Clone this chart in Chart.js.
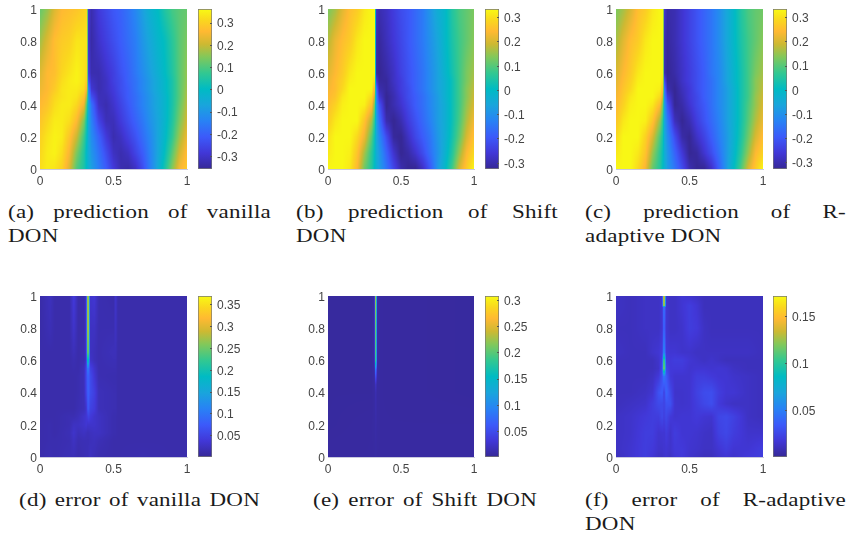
<!DOCTYPE html>
<html>
<head>
<meta charset="utf-8">
<title>DON predictions and errors</title>
<script src="https://cdn.jsdelivr.net/npm/chart.js@4"></script>
<style>
  body { margin: 0; background: #fff; width: 848px; height: 536px; overflow: hidden; position: relative; }
  canvas { position: absolute; }
  .cap { position: absolute; font-family: "Liberation Serif", serif; font-size: 19.5px; line-height: 24px; letter-spacing: .2px; color: #1a1a1a; white-space: nowrap; transform: scaleX(1.18); transform-origin: left top; }
  .just { text-align: justify; text-align-last: justify; white-space: normal; }
</style>
</head>
<body>
<script>
// prediction panels share one grid, rows go top to bottom
const predX = [0,.05,.1,.15,.2,.25,.3,.32,.33,.35,.4,.45,.5,.55,.6,.65,.7,.75,.8,.85,.9,.95,1];
const predT = [1,.8,.6,.55,.5,.45,.4,.3,.2,.1,0];

const vanillaPred = [
  [.12,.16,.22,.26,.27,.28,.30,.31,-.29,-.33,-.28,-.25,-.22,-.20,-.17,-.13,-.08,-.03,0,.05,.09,.11,.12],
  [.17,.22,.27,.29,.30,.33,.33,.33,-.30,-.34,-.30,-.27,-.24,-.21,-.18,-.15,-.10,-.06,-.02,.01,.06,.11,.14],
  [.22,.26,.27,.31,.33,.35,.33,.31,-.27,-.33,-.33,-.30,-.27,-.23,-.20,-.16,-.12,-.08,-.04,0,.05,.11,.16],
  [.23,.26,.28,.32,.34,.35,.33,.29,-.22,-.31,-.33,-.31,-.27,-.24,-.20,-.17,-.13,-.09,-.05,-.01,.04,.11,.16],
  [.24,.26,.29,.33,.34,.34,.32,.24,-.13,-.29,-.33,-.31,-.28,-.24,-.21,-.17,-.13,-.09,-.05,-.01,.04,.11,.17],
  [.25,.27,.31,.33,.34,.33,.28,.16,-.09,-.23,-.32,-.32,-.29,-.25,-.21,-.18,-.14,-.10,-.06,-.02,.04,.11,.18],
  [.26,.28,.32,.34,.34,.31,.24,.08,-.06,-.17,-.31,-.33,-.30,-.26,-.22,-.18,-.14,-.10,-.06,-.02,.04,.12,.19],
  [.28,.31,.34,.34,.32,.26,.14,.02,-.06,-.14,-.26,-.32,-.32,-.28,-.24,-.20,-.16,-.11,-.07,-.02,.05,.14,.21],
  [.30,.33,.35,.34,.28,.20,.08,0,-.06,-.12,-.20,-.28,-.33,-.31,-.27,-.23,-.18,-.13,-.07,-.01,.07,.17,.24],
  [.31,.34,.35,.32,.25,.14,.05,-.02,-.05,-.10,-.17,-.24,-.31,-.33,-.31,-.26,-.21,-.14,-.07,.01,.11,.21,.27],
  [.32,.34,.33,.30,.22,.10,.04,-.01,-.04,-.08,-.15,-.21,-.28,-.33,-.34,-.31,-.24,-.15,-.06,.04,.15,.25,.29],
];
const shiftPred = [
  [.13,.16,.21,.25,.27,.31,.33,.33,-.27,-.30,-.28,-.25,-.22,-.20,-.17,-.14,-.09,-.04,-.01,.05,.09,.11,.13],
  [.17,.22,.25,.27,.31,.33,.33,.33,-.30,-.32,-.29,-.26,-.23,-.20,-.17,-.14,-.10,-.06,-.01,.04,.08,.11,.14],
  [.21,.24,.27,.31,.33,.33,.33,.33,-.31,-.33,-.31,-.28,-.24,-.21,-.18,-.15,-.11,-.07,-.02,.03,.08,.13,.16],
  [.22,.25,.28,.32,.33,.33,.33,.30,-.24,-.32,-.32,-.28,-.25,-.21,-.18,-.15,-.11,-.07,-.03,.02,.08,.13,.17],
  [.23,.25,.29,.33,.33,.33,.33,.24,-.14,-.30,-.32,-.29,-.25,-.22,-.18,-.15,-.11,-.07,-.03,.02,.08,.14,.18],
  [.24,.26,.31,.33,.33,.33,.29,.18,-.10,-.26,-.33,-.30,-.26,-.22,-.19,-.16,-.12,-.08,-.03,.02,.08,.14,.19],
  [.25,.28,.32,.33,.33,.32,.25,.12,-.08,-.20,-.33,-.30,-.27,-.23,-.19,-.16,-.12,-.08,-.04,.02,.08,.15,.20],
  [.27,.31,.33,.33,.33,.26,.16,.06,-.06,-.15,-.30,-.33,-.30,-.25,-.21,-.17,-.13,-.08,-.04,.02,.09,.17,.23],
  [.30,.33,.33,.33,.29,.22,.10,.02,-.05,-.11,-.22,-.32,-.33,-.28,-.23,-.19,-.15,-.09,-.04,.03,.11,.20,.26],
  [.31,.33,.33,.32,.26,.16,.06,.01,-.04,-.08,-.18,-.27,-.33,-.31,-.27,-.22,-.16,-.10,-.03,.05,.15,.24,.29],
  [.33,.33,.33,.31,.24,.12,.05,0,-.03,-.07,-.15,-.23,-.30,-.33,-.33,-.28,-.20,-.09,-.01,.08,.20,.27,.33],
];
const radaptPred = [
  [.13,.16,.20,.25,.27,.31,.33,.33,-.27,-.31,-.30,-.27,-.24,-.21,-.18,-.15,-.11,-.06,-.01,.05,.09,.11,.12],
  [.16,.21,.25,.27,.31,.33,.33,.33,-.30,-.32,-.30,-.27,-.24,-.21,-.18,-.15,-.11,-.06,-.01,.04,.08,.11,.14],
  [.20,.24,.27,.31,.33,.33,.33,.32,-.30,-.33,-.31,-.28,-.25,-.22,-.19,-.15,-.12,-.07,-.02,.03,.08,.13,.16],
  [.21,.25,.28,.32,.33,.33,.33,.29,-.22,-.32,-.32,-.28,-.25,-.22,-.19,-.16,-.12,-.07,-.02,.03,.08,.14,.17],
  [.22,.26,.29,.33,.33,.33,.32,.24,-.15,-.30,-.33,-.29,-.26,-.22,-.19,-.16,-.12,-.08,-.03,.03,.08,.14,.18],
  [.23,.27,.31,.33,.33,.33,.29,.18,-.11,-.25,-.33,-.30,-.26,-.23,-.19,-.16,-.12,-.08,-.03,.03,.08,.15,.19],
  [.24,.28,.32,.33,.33,.31,.24,.12,-.08,-.20,-.33,-.31,-.27,-.23,-.20,-.16,-.12,-.08,-.03,.03,.09,.15,.20],
  [.26,.31,.33,.33,.32,.26,.15,.06,-.06,-.14,-.29,-.33,-.30,-.25,-.21,-.17,-.13,-.08,-.03,.03,.10,.17,.22],
  [.29,.33,.33,.33,.28,.20,.09,.03,-.05,-.11,-.22,-.31,-.33,-.28,-.24,-.19,-.14,-.09,-.03,.04,.12,.20,.25],
  [.31,.33,.33,.31,.26,.15,.06,.01,-.04,-.09,-.18,-.26,-.33,-.32,-.27,-.22,-.16,-.09,-.02,.06,.15,.24,.28],
  [.33,.33,.33,.29,.23,.11,.05,0,-.03,-.08,-.15,-.22,-.30,-.33,-.33,-.28,-.19,-.09,0,.09,.20,.27,.33],
];

const vanillaErrX = [0,.07,.1,.2,.23,.26,.3,.315,.322,.332,.34,.37,.4,.5,.515,.53,.7,.9,1];
const vanillaErrT = [1,.8,.65,.6,.55,.5,.4,.3,.25,.2,.15,.1,0];
const vanillaErr = [
  [.01,.022,.012,.012,.04,.012,.012,.03,.26,.27,.03,.035,.015,.012,.03,.012,.012,.012,.012],
  [.01,.018,.012,.012,.03,.012,.012,.03,.26,.27,.025,.025,.015,.015,.025,.012,.012,.012,.012],
  [.012,.012,.012,.012,.02,.012,.015,.03,.24,.24,.025,.02,.015,.02,.02,.012,.012,.012,.012],
  [.012,.012,.012,.012,.016,.012,.015,.03,.18,.18,.03,.02,.015,.018,.018,.012,.012,.012,.012],
  [.012,.012,.012,.012,.014,.012,.02,.05,.1,.1,.05,.03,.015,.016,.016,.012,.012,.012,.012],
  [.012,.012,.012,.012,.012,.014,.02,.055,.075,.08,.06,.035,.016,.014,.014,.012,.012,.012,.012],
  [.012,.012,.012,.012,.012,.014,.02,.05,.07,.08,.06,.045,.02,.016,.016,.012,.012,.012,.012],
  [.012,.012,.012,.012,.012,.016,.02,.03,.06,.07,.05,.04,.02,.016,.016,.012,.012,.012,.012],
  [.012,.012,.012,.016,.016,.02,.03,.035,.04,.05,.04,.03,.025,.014,.014,.012,.012,.012,.012],
  [.012,.014,.012,.016,.025,.025,.03,.035,.03,.03,.03,.03,.025,.014,.014,.012,.012,.012,.012],
  [.012,.014,.012,.018,.03,.02,.025,.022,.02,.02,.022,.025,.025,.014,.014,.012,.012,.012,.012],
  [.012,.014,.014,.016,.025,.016,.018,.018,.018,.018,.02,.022,.018,.012,.012,.012,.012,.012,.012],
  [.012,.016,.014,.018,.018,.014,.016,.018,.018,.02,.024,.018,.014,.012,.012,.012,.014,.012,.012],
];

const shiftErrX = [0,.3,.318,.323,.33,.335,.36,1];
const shiftErrT = [1,.8,.65,.6,.57,.54,.5,.45,.4,.2,0];
const shiftErr = [
  [.004,.004,.006,.22,.22,.008,.005,.004],
  [.004,.004,.006,.2,.2,.008,.005,.004],
  [.004,.004,.006,.19,.19,.008,.005,.004],
  [.004,.004,.006,.18,.18,.008,.005,.004],
  [.004,.004,.006,.14,.14,.008,.005,.004],
  [.004,.004,.006,.08,.08,.008,.005,.004],
  [.004,.004,.006,.05,.05,.008,.005,.004],
  [.004,.004,.006,.02,.02,.006,.005,.004],
  [.004,.004,.006,.012,.012,.006,.005,.004],
  [.004,.005,.006,.008,.008,.006,.005,.005],
  [.005,.005,.005,.006,.006,.005,.005,.005],
];

const radaptErrX = [0,.1,.2,.25,.29,.315,.322,.332,.34,.37,.4,.45,.5,.55,.6,.65,.7,.75,.8,.9,1];
const radaptErrT = [1,.94,.93,.8,.65,.6,.55,.5,.4,.33,.25,.15,.05,0];
const radaptErr = [
  [.012,.01,.012,.012,.012,.016,.13,.13,.016,.012,.012,.016,.014,.012,.01,.01,.01,.01,.01,.01,.01],
  [.012,.01,.012,.012,.012,.016,.12,.12,.016,.012,.012,.016,.02,.016,.01,.01,.01,.01,.01,.01,.01],
  [.012,.01,.012,.012,.012,.016,.04,.04,.016,.012,.012,.016,.02,.016,.01,.01,.01,.01,.01,.01,.01],
  [.01,.01,.012,.012,.012,.016,.035,.035,.016,.012,.012,.014,.02,.018,.012,.01,.01,.01,.01,.01,.01],
  [.012,.01,.01,.014,.016,.02,.05,.05,.018,.016,.016,.014,.014,.012,.012,.012,.012,.012,.012,.012,.01],
  [.01,.01,.01,.01,.014,.022,.1,.1,.02,.018,.02,.02,.016,.014,.012,.014,.012,.01,.01,.01,.01],
  [.01,.01,.01,.01,.013,.026,.11,.11,.026,.018,.018,.018,.015,.016,.016,.015,.016,.015,.012,.01,.01],
  [.01,.01,.01,.012,.018,.03,.045,.045,.035,.018,.015,.015,.015,.02,.02,.018,.016,.016,.014,.012,.01],
  [.01,.01,.012,.015,.03,.035,.025,.025,.04,.026,.014,.014,.015,.022,.027,.028,.02,.016,.016,.012,.01],
  [.01,.012,.014,.02,.026,.026,.024,.024,.03,.03,.015,.014,.015,.02,.025,.028,.018,.014,.012,.012,.01],
  [.012,.014,.018,.02,.02,.026,.022,.022,.026,.018,.015,.016,.016,.018,.016,.015,.024,.026,.022,.012,.01],
  [.012,.014,.02,.02,.015,.016,.016,.016,.02,.014,.02,.016,.016,.015,.013,.012,.022,.025,.02,.014,.014],
  [.012,.015,.02,.018,.014,.014,.015,.015,.016,.014,.018,.018,.015,.014,.012,.012,.016,.02,.016,.016,.02],
  [.01,.015,.02,.016,.012,.012,.013,.014,.015,.012,.016,.018,.014,.012,.01,.01,.014,.016,.014,.018,.02],
];

const ticksPredA = [-.3,-.2,-.1,0,.1,.2,.3];
const ticksErrA = [.05,.1,.15,.2,.25,.3,.35];
const ticksErrB = [.05,.1,.15,.2,.25,.3];
const ticksErrC = [.05,.1,.15];

// colour stops
const cmapPos = [0,.1,.2,.3,.4,.5,.6,.7,.78,.86,.93,1];
const cmapRGB = [[54,40,150],[65,55,215],[60,90,250],[40,130,245],[25,165,220],[0,187,195],
  [50,200,145],[130,200,90],[205,185,50],[255,185,50],[250,215,30],[248,250,20]];

function cmap(f) {
  f = Math.max(0, Math.min(1, f));
  let i = 0;
  while (i < cmapPos.length - 2 && f > cmapPos[i + 1]) i++;
  const k = (f - cmapPos[i]) / (cmapPos[i + 1] - cmapPos[i]);
  const c = cmapRGB[i].map((v, n) => Math.round(v + (cmapRGB[i + 1][n] - v) * k));
  return `rgb(${c[0]},${c[1]},${c[2]})`;
}

const TICK_FONT = { family: "Liberation Sans", size: 12 };
const TICK_COLOR = "#444";

// shaded like matlab's "shading interp": each pixel between the grid points
const heatPlugin = {
  id: "heat",
  beforeDatasetsDraw(chart) {
    const ds = chart.data.datasets[0];
    const pts = chart.getDatasetMeta(0).data;
    const nx = ds.nx, ny = ds.data.length / nx;
    const a = chart.chartArea, ctx = chart.ctx;
    const px = [], py = [];
    for (let i = 0; i < nx; i++) px.push(pts[i].x);
    for (let j = 0; j < ny; j++) py.push(pts[j * nx].y);
    let j = 0;
    for (let y = Math.round(a.top); y < Math.round(a.bottom); y++) {
      while (j < ny - 2 && y + .5 > py[j + 1]) j++;
      const v = (y + .5 - py[j]) / (py[j + 1] - py[j]);
      let i = 0;
      for (let x = Math.round(a.left); x < Math.round(a.right); x++) {
        while (i < nx - 2 && x + .5 > px[i + 1]) i++;
        const u = (x + .5 - px[i]) / (px[i + 1] - px[i]);
        const d = ds.data;
        const top = d[j * nx + i].v * (1 - u) + d[j * nx + i + 1].v * u;
        const bot = d[(j + 1) * nx + i].v * (1 - u) + d[(j + 1) * nx + i + 1].v * u;
        const val = top * (1 - v) + bot * v;
        ctx.fillStyle = cmap((val - ds.cmin) / (ds.cmax - ds.cmin));
        ctx.fillRect(x, y, 1, 1);
      }
    }
  },
};

const cbTicksPlugin = {
  id: "cbTicks",
  afterDatasetsDraw(chart) {
    const s = chart.scales.y, a = chart.chartArea, ctx = chart.ctx;
    ctx.strokeStyle = "#555";
    ctx.beginPath();
    s.ticks.forEach(t => {
      const y = Math.round(s.getPixelForValue(t.value)) + .5;
      ctx.moveTo(a.right - 2, y);
      ctx.lineTo(a.right, y);
    });
    ctx.stroke();
  },
};

function addCanvas(left, top, w, h) {
  const c = document.createElement("canvas");
  c.width = w; c.height = h;
  c.style.left = left + "px"; c.style.top = top + "px";
  document.body.appendChild(c);
  return c;
}

// keeps the plot area where we put it, the tick labels may hang over
function noMargins(s) {
  s.paddingTop = s.paddingBottom = s.paddingLeft = s.paddingRight = 0;
}

function panel(p) {
  const points = [];
  p.t.forEach((t, j) => p.x.forEach((x, i) => points.push({ x: x, y: t, v: p.vals[j][i] })));
  const LEFT = 34, PAD = 8, BOTTOM = 24;
  const w = p.right - p.left, h = p.bottom - p.top;

  new Chart(addCanvas(p.left - LEFT, p.top - PAD, LEFT + w + PAD, PAD + h + BOTTOM), {
    type: "scatter",
    data: { datasets: [{ data: points, nx: p.x.length, cmin: p.cmin, cmax: p.cmax, pointRadius: 0 }] },
    plugins: [heatPlugin],
    options: {
      responsive: false,
      animation: false,
      layout: { autoPadding: false, padding: { top: PAD, right: PAD } },
      plugins: { legend: { display: false }, tooltip: { enabled: false } },
      scales: {
        x: {
          type: "linear", min: 0, max: 1,
          afterFit: s => { s.height = BOTTOM; noMargins(s); },
          ticks: { stepSize: .5, font: TICK_FONT, color: TICK_COLOR, padding: 5, maxRotation: 0, callback: v => String(v) },
          grid: { drawOnChartArea: false, drawTicks: false },
          border: { color: "#c9c9de" },
        },
        y: {
          min: 0, max: 1,
          afterFit: s => { s.width = LEFT; noMargins(s); },
          ticks: { stepSize: .2, font: TICK_FONT, color: TICK_COLOR, padding: 3, labelOffset: 1.5, callback: v => String(v) },
          grid: { drawOnChartArea: false, drawTicks: false },
          border: { color: "#c9c9de" },
        },
      },
    },
  });

  // colorbar
  const CBW = 14, CBR = 44;
  new Chart(addCanvas(p.cbLeft, p.top - PAD, CBW + CBR, PAD + h + PAD), {
    type: "bar",
    data: {
      labels: [""],
      datasets: [{
        data: [[p.cmin, p.cmax]],
        barPercentage: 1,
        categoryPercentage: 1,
        borderWidth: 1,
        borderColor: "#777",
        borderSkipped: false,
        backgroundColor(ctx) {
          const a = ctx.chart.chartArea;
          if (!a) return "#fff";
          const g = ctx.chart.ctx.createLinearGradient(0, a.bottom, 0, a.top);
          cmapPos.forEach(f => g.addColorStop(f, cmap(f)));
          return g;
        },
      }],
    },
    plugins: [cbTicksPlugin],
    options: {
      responsive: false,
      animation: false,
      layout: { autoPadding: false, padding: { top: PAD, bottom: PAD } },
      plugins: { legend: { display: false }, tooltip: { enabled: false } },
      scales: {
        x: { display: false },
        y: {
          position: "right", min: p.cmin, max: p.cmax,
          afterFit: s => { s.width = CBR; noMargins(s); },
          afterBuildTicks: s => { s.ticks = p.cbTicks.map(v => ({ value: v })); },
          ticks: { autoSkip: false, font: TICK_FONT, color: TICK_COLOR, padding: 5, labelOffset: 1.5, callback: v => String(v) },
          grid: { drawOnChartArea: false, drawTicks: false },
          border: { display: false },
        },
      },
    },
  });
}

const ROW1 = { top: 9, bottom: 169 }, ROW2 = { top: 296, bottom: 457 };
panel({ ...ROW1, left: 40, right: 187, cbLeft: 198, x: predX, t: predT, vals: vanillaPred, cmin: -.358, cmax: .361, cbTicks: ticksPredA });
panel({ ...ROW1, left: 328, right: 474, cbLeft: 485, x: predX, t: predT, vals: shiftPred, cmin: -.326, cmax: .334, cbTicks: ticksPredA });
panel({ ...ROW1, left: 616, right: 763, cbLeft: 773, x: predX, t: predT, vals: radaptPred, cmin: -.328, cmax: .334, cbTicks: ticksPredA });
panel({ ...ROW2, left: 40, right: 187, cbLeft: 198, x: vanillaErrX, t: vanillaErrT, vals: vanillaErr, cmin: 0, cmax: .369, cbTicks: ticksErrA });
panel({ ...ROW2, left: 328, right: 474, cbLeft: 485, x: shiftErrX, t: shiftErrT, vals: shiftErr, cmin: 0, cmax: .308, cbTicks: ticksErrB });
panel({ ...ROW2, left: 616, right: 763, cbLeft: 773, x: radaptErrX, t: radaptErrT, vals: radaptErr, cmin: 0, cmax: .171, cbTicks: ticksErrC });

// captions: [left, top, width or null, text]
const CAP_SCALE = 1.18;
const captions = [
  [8, 200, 263, "(a) prediction of vanilla"], [8, 224, null, "DON"],
  [296, 200, 262, "(b) prediction of Shift"], [296, 224, null, "DON"],
  [585, 200, 261, "(c) prediction of R-"], [585, 224, null, "adaptive DON"],
  [19, 488, 241, "(d) error of vanilla DON"],
  [313, 488, 224, "(e) error of Shift DON"],
  [585, 488, 261, "(f) error of R-adaptive"], [585, 512, null, "DON"],
];
captions.forEach(c => {
  const d = document.createElement("div");
  d.className = "cap" + (c[2] ? " just" : "");
  d.style.left = c[0] + "px";
  d.style.top = c[1] + "px";
  if (c[2]) d.style.width = (c[2] / CAP_SCALE) + "px";
  d.textContent = c[3];
  document.body.appendChild(d);
});
</script>
</body>
</html>
